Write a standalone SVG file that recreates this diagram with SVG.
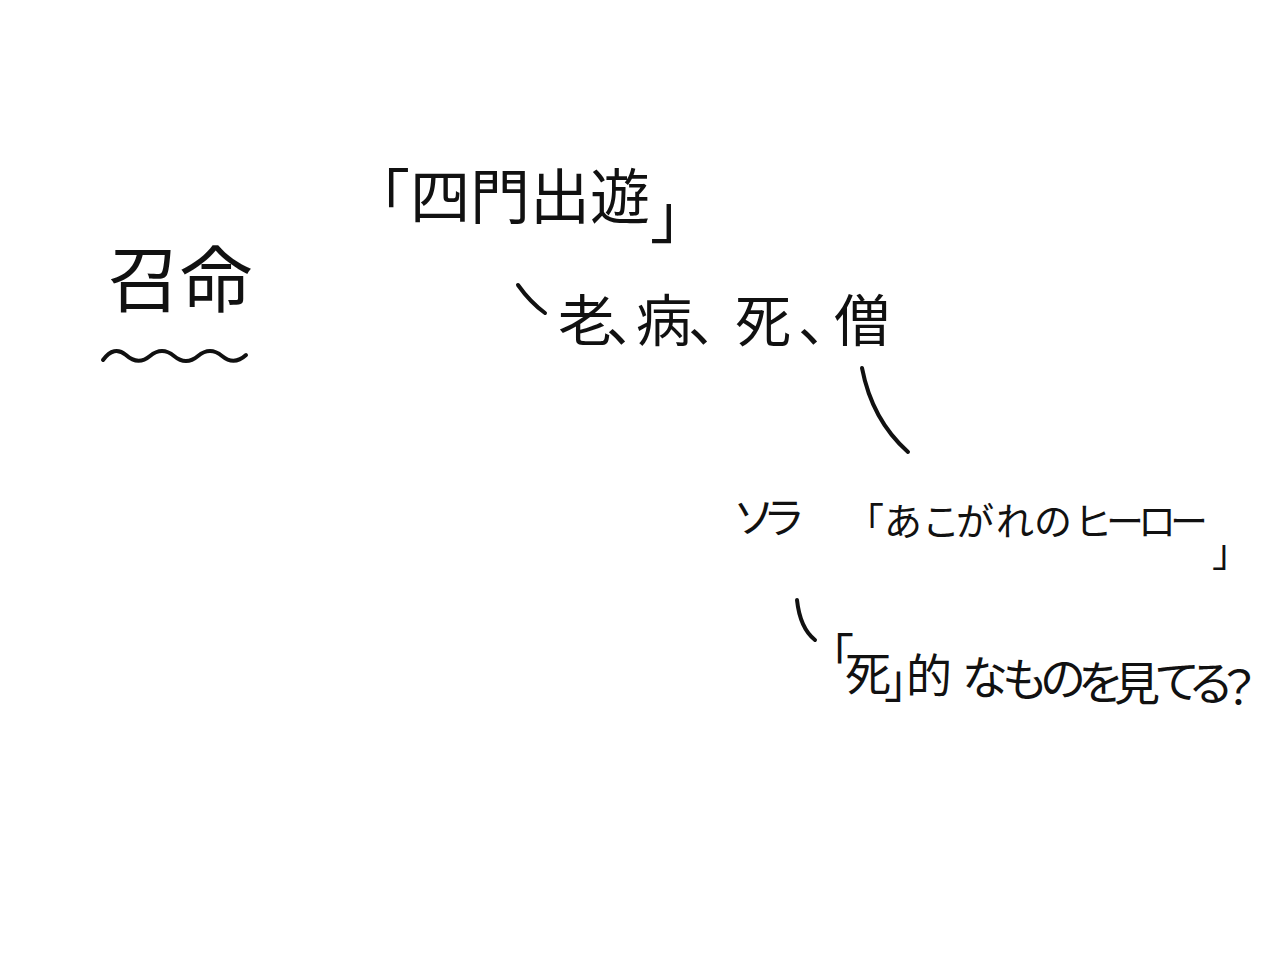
<svg xmlns="http://www.w3.org/2000/svg" width="1280" height="960" viewBox="0 0 1280 960">
<style>
.t{font-family:"Noto Sans CJK JP","Noto Sans CJK SC",sans-serif;fill:#111;}
.s{fill:none;stroke:#111;stroke-width:4;stroke-linecap:round;stroke-linejoin:round;}
</style>
<rect width="1280" height="960" fill="#fff"/>
<g id="calling">
<text class="t" font-size="72" x="108" y="306">召命</text>
<path class="s" d="M103 360 Q114 345 126 355 Q138 366 150 356 Q162 346 174 356 Q186 366 198 356 Q210 346 222 356 Q234 366 246 355"/>
</g>
<g id="shimon">
<text class="t" font-size="60" x="350" y="219">「四門出遊<tspan x="650" y="238">」</tspan></text>
</g>
<g id="rouby">
<text class="t" font-size="56" x="558 606 636 688 735 798 834" y="341">老、病、死、僧</text>
</g>
<g id="sora">
<text class="t" font-size="42" x="733 763" y="533">ソラ</text>
</g>
<g id="hero">
<text class="t" font-size="38" x="846 884 922 956 996 1034 1074 1106 1138 1170" y="535">「あこがれのヒーロー</text>
<text class="t" font-size="38" x="1212" y="566">」</text>
</g>
<g id="death">
<text class="t" font-size="46" x="808 845 884 906 962 1002 1040 1078 1114 1154 1188 1216" y="672 690 697 692 694 696 695 699 700 698 700 704">「死」的なものを見てる？</text>
</g>
<g id="connectors">
<path class="s" d="M518 285 Q530 302 545 313"/>
<path class="s" d="M862 368 Q872 420 908 452"/>
<path class="s" d="M797 600 Q800 628 815 640"/>
</g>
</svg>
